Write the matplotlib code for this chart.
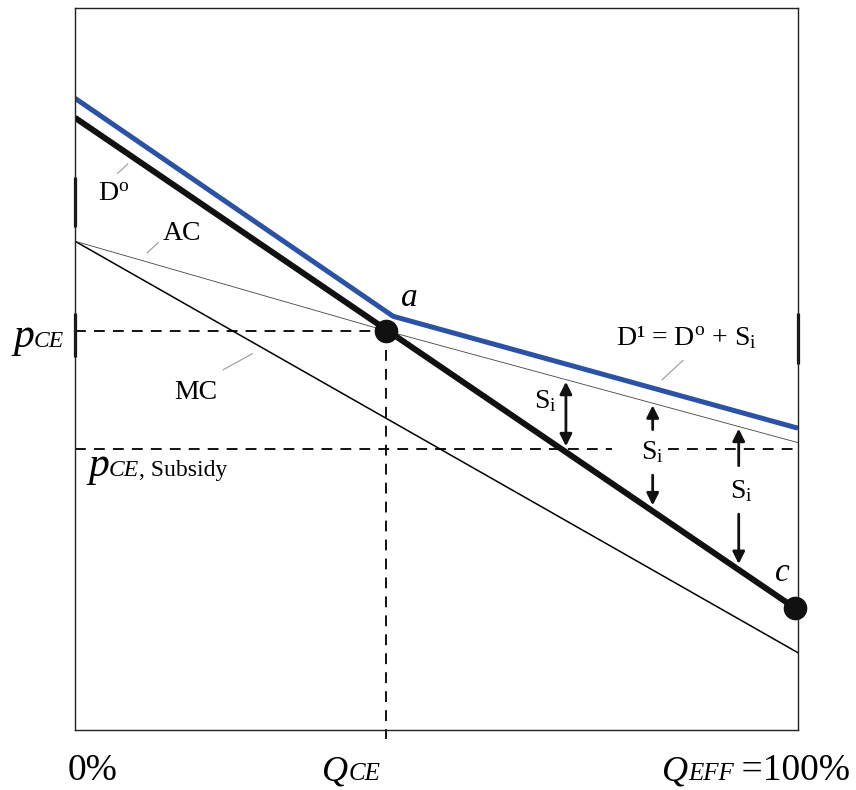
import matplotlib
import numpy as np

matplotlib.use("Agg")
import matplotlib.pyplot as plt  # noqa: E402

plt.rcParams["font.family"] = ["Liberation Serif", "DejaVu Serif"]
plt.rcParams["mathtext.fontset"] = "custom"
plt.rcParams["mathtext.rm"] = "Liberation Serif"
plt.rcParams["mathtext.it"] = "Liberation Serif:italic"

# quantity axis in % of efficient output, price axis in arbitrary units
Q_CE = 43.0
P_CE = 55.3
P_SUB = 38.9

D0_Q = [0, 100]
D0_P = [84.8, 16.6]
D1_Q = [0, 44, 100]
D1_P = [87.5, 57.3, 41.8]
AC_Q = [0, Q_CE, 100]
AC_P = [67.7, P_CE, 39.8]
MC_Q = [0, 100]
MC_P = [67.7, 10.7]

# subsidy arrows: quantity, tail of upper arrow, tail of lower arrow (None = double arrow)
ARROW_Q = [67.9, 79.9, 91.8]
ARROW_UP_TAIL = [None, 41.6, 36.6]
ARROW_DN_TAIL = [None, 35.3, 29.9]

W, H = 856, 790
BLUE = "#2c52a5"

fig = plt.figure(figsize=(W / 100, H / 100), dpi=100)
ax = fig.add_axes([75 / W, 60 / H, 723 / W, 722 / H])
ax.set_xlim(0, 100)
ax.set_ylim(0, 100)
ax.set_xticks([])
ax.set_yticks([])
for s in ax.spines.values():
    s.set_linewidth(1.0)
    s.set_color("#222")

dash = dict(color="black", lw=1.3, ls=(0, (6, 4.5)))
ax.plot([0, Q_CE], [P_CE, P_CE], **dash)
ax.plot([Q_CE, Q_CE], [P_CE, -1.2], clip_on=False, **dash)
ax.plot([0, 74.3], [P_SUB, P_SUB], **dash)
ax.plot([82.0, 100], [P_SUB, P_SUB], **dash)

ax.plot(MC_Q, MC_P, color="black", lw=1.1)
ax.plot(AC_Q, AC_P, color="#444", lw=0.6)
ax.plot(D0_Q, D0_P, color="#111", lw=4.3, solid_capstyle="butt")
ax.plot(D1_Q, D1_P, color=BLUE, lw=3.6, solid_capstyle="butt")

# thick marks on the axes
for x, (y0, y1) in [(0, (69.7, 76.6)), (0, (51.7, 57.8)), (100, (50.7, 57.8))]:
    ax.plot([x, x], [y0, y1], color="#111", lw=2.3, clip_on=False, solid_capstyle="butt")

ax.plot([Q_CE, 99.6], [P_CE, np.interp(99.6, D0_Q, D0_P)], ls="none",
        marker="o", ms=16, color="#111", clip_on=False, zorder=5)

# subsidy arrows
ap = dict(arrowstyle="-|>", lw=2.0, color="#111", mutation_scale=18, shrinkA=0, shrinkB=0)
for q, up, dn in zip(ARROW_Q, ARROW_UP_TAIL, ARROW_DN_TAIL):
    top = np.interp(q, AC_Q, AC_P) - 0.3
    bot = np.interp(q, D0_Q, D0_P) + 0.8
    if up is None:
        ax.annotate("", xy=(q, top), xytext=(q, bot),
                    arrowprops=dict(ap, arrowstyle="<|-|>"))
    else:
        ax.annotate("", xy=(q, top), xytext=(q, up), arrowprops=ap)
        ax.annotate("", xy=(q, bot), xytext=(q, dn), arrowprops=ap)

fs = 20
si = r"S$_\mathrm{i}$"
ax.text(65.1, 45.6, si, fontsize=fs, ha="center", va="center")
ax.text(79.9, 38.5, si, fontsize=fs, ha="center", va="center")
ax.text(92.1, 33.1, si, fontsize=fs, ha="center", va="center")
ax.text(46.3, 59.8, "a", fontsize=24, style="italic", ha="center", va="center")
ax.text(97.8, 21.8, "c", fontsize=24, style="italic", ha="center", va="center")
ax.text(84.5, 54.4, r"D¹ = D$^\mathrm{o}$ + S$_\mathrm{i}$",
        fontsize=fs, ha="center", va="center")
ax.text(5.3, 74.2, r"D$^\mathrm{o}$", fontsize=fs, ha="center", va="center")
ax.text(14.8, 68.8, "AC", fontsize=fs, ha="center", va="center")
ax.text(16.7, 46.8, "MC", fontsize=fs, ha="center", va="center")

lead = dict(color="#999", lw=0.8)
ax.plot([5.9, 7.3], [77.1, 78.4], **lead)
ax.plot([10.0, 11.5], [66.1, 67.5], **lead)
ax.plot([20.5, 24.5], [49.9, 52.1], **lead)
ax.plot([81.2, 84.1], [48.5, 51.2], **lead)

# outside labels, pieces laid out one after another in figure pixels
renderer = fig.canvas.get_renderer()


def chain(x, y, pieces):
    for s, kw in pieces:
        t = fig.text(x / W, 1 - y / H, s, va="baseline", ha="left", **kw)
        x += t.get_window_extent(renderer).width


it = dict(style="italic")
chain(13, 347, [("p", dict(fontsize=30, **it)), ("CE", dict(fontsize=17, **it))])
chain(88, 476, [("p", dict(fontsize=30, **it)), ("CE", dict(fontsize=17, **it)),
                (", Subsidy", dict(fontsize=17))])
chain(68, 780, [("0%", dict(fontsize=27))])
chain(322, 780, [("Q", dict(fontsize=26, **it)), ("CE", dict(fontsize=18, **it))])
chain(662, 780, [("Q", dict(fontsize=26, **it)), ("EFF", dict(fontsize=18, **it)),
                 ("\u2009=100%", dict(fontsize=27))])

fig.savefig("out.png", dpi=100)
